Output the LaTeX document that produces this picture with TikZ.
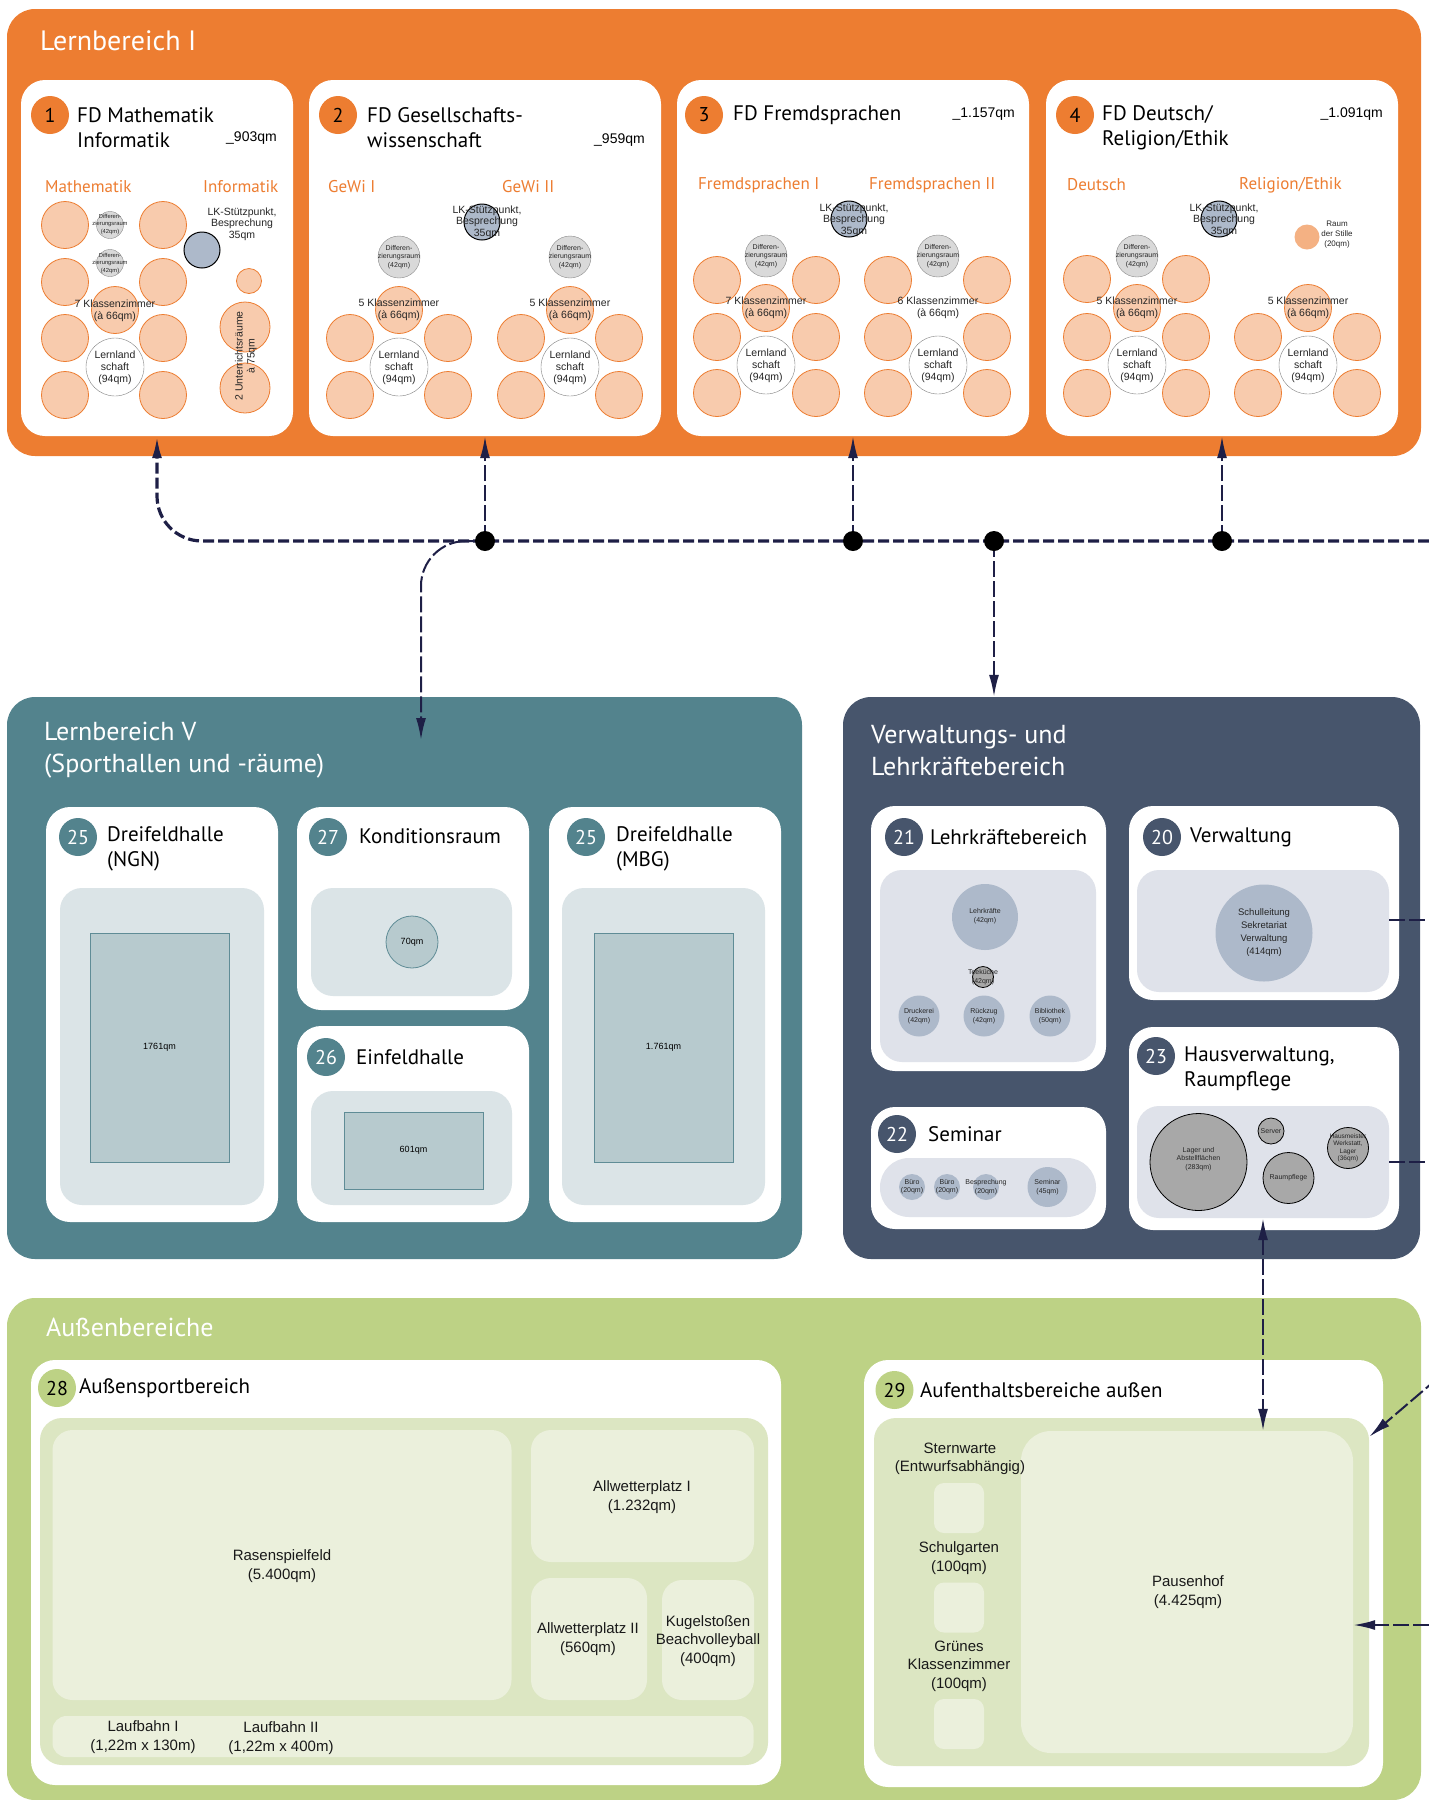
\documentclass[tikz,border=0pt]{standalone}
\usepackage{fontspec}
\setmainfont{Liberation Sans}
\newfontfamily\headfont{PT Sans}
\usetikzlibrary{arrows.meta, positioning, calc}

\definecolor{lbo}{RGB}{237,125,49}
\definecolor{kzfill}{RGB}{248,203,173}
\definecolor{stille}{RGB}{244,177,131}
\definecolor{diffill}{RGB}{217,217,217}
\definecolor{lkfill}{RGB}{173,185,202}
\definecolor{lbteal}{RGB}{83,131,141}
\definecolor{tealin}{RGB}{219,228,231}
\definecolor{tealrect}{RGB}{183,202,206}
\definecolor{tealline}{RGB}{95,140,150}
\definecolor{vwdark}{RGB}{71,85,108}
\definecolor{vwin}{RGB}{223,226,234}
\definecolor{vwcirc}{RGB}{173,185,202}
\definecolor{hvgrey}{RGB}{168,168,168}
\definecolor{agreen}{RGB}{189,210,133}
\definecolor{agin}{RGB}{220,230,194}
\definecolor{agfield}{RGB}{235,240,220}
\definecolor{wire}{RGB}{30,31,70}

\tikzset{
  wh/.style 2 args={minimum width=#1pt, minimum height=#2pt},
  area/.style={rounded corners=28pt, inner sep=0pt},
  card/.style={fill=white, rounded corners=24pt, inner sep=0pt},
  inbox/.style={rounded corners=22pt, inner sep=0pt},
  bigtitle/.style={text=white, anchor=west, align=left, inner sep=0pt,
    font=\headfont\fontsize{26}{32}\selectfont},
  cardtitle/.style={anchor=west, align=left, inner sep=0pt,
    font=\headfont\fontsize{21}{25}\selectfont},
  num/.style={circle, minimum size=38pt, inner sep=0pt,
    font=\headfont\fontsize{20}{24}\selectfont},
  sub/.style={text=lbo, anchor=west, inner sep=0pt,
    font=\headfont\fontsize{17}{20}\selectfont},
  qm/.style={anchor=east, inner sep=0pt, font=\fontsize{14}{16}\selectfont},
  kz/.style={circle, draw=lbo, fill=kzfill, minimum size=47pt, inner sep=0pt, line width=0.8pt},
  diff/.style={circle, draw=black!45, fill=diffill, minimum size=42pt, inner sep=0pt},
  lk/.style={circle, draw=black, fill=lkfill, minimum size=36pt, inner sep=0pt, line width=1pt},
  ll/.style={circle, draw=black!50, fill=white, minimum size=58pt, inner sep=0pt},
  lbl/.style={align=center, inner sep=0pt, text=black!85, font=\fontsize{10.5}{12}\selectfont},
  tinylbl/.style={align=center, inner sep=0pt, text=black!85, font=\fontsize{7}{8.5}\selectfont},
  glbl/.style={align=center, inner sep=0pt, text=black!90, font=\fontsize{15}{18.5}\selectfont},
  hall/.style={fill=tealrect, draw=tealline, line width=0.8pt, inner sep=0pt},
  vwc/.style={circle, fill=vwcirc, inner sep=0pt},
  hvc/.style={circle, fill=hvgrey, draw=black, line width=0.8pt, inner sep=0pt},
  field/.style={fill=agfield, rounded corners=20pt, inner sep=0pt},
  >={Latex[length=22pt,width=10pt]},
  trunk/.style={draw=wire, line width=3.2pt, dash pattern=on 11pt off 4pt},
  branch/.style={draw=wire, line width=2pt, dash pattern=on 16pt off 4pt},
}

\begin{document}
\begin{tikzpicture}[x=1pt, y=-1pt]
\useasboundingbox (0,0) rectangle (1429,1800);

% Lernbereich I
\node[area, fill=lbo, wh={1414}{447}] (lb1) at (714,232.5) {};
\node[bigtitle, font=\headfont\fontsize{28}{34}\selectfont] (lb1t) at (40,41) {Lernbereich I};
\node[card, wh={272}{356}] (c1) at (157,258) {};
\node[card, wh={352}{356}] (c2) at (485,258) {};
\node[card, wh={352}{356}] (c3) at (853,258) {};
\node[card, wh={352}{356}] (c4) at (1222,258) {};

\node[num, fill=lbo] (n1) at (50,115) {1};
\node[num, fill=lbo] (n2) at (338,115) {2};
\node[num, fill=lbo] (n3) at (704,115) {3};
\node[num, fill=lbo] (n4) at (1075,115) {4};
\node[cardtitle] (t1) at (77,127.5) {FD Mathematik\\Informatik};
\node[cardtitle] (t2) at (367,127.5) {FD Gesellschafts-\\wissenschaft};
\node[cardtitle] (t3) at (733,115) {FD Fremdsprachen};
\node[cardtitle] (t4) at (1102,127.5) {FD Deutsch/\\Religion/Ethik};
\node[qm] (q1) at (277,138) {\_903qm};
\node[qm] (q2) at (645,140) {\_959qm};
\node[qm] (q3) at (1015,114) {\_1.157qm};
\node[qm] (q4) at (1383,114) {\_1.091qm};

\node[sub] (s1a) at (45,187) {Mathematik};
\node[sub] (s1b) at (203,187) {Informatik};
\node[sub] (s2a) at (328,187) {GeWi I};
\node[sub] (s2b) at (502,187) {GeWi II};
\node[sub] (s3a) at (698,185) {Fremdsprachen I};
\node[sub] (s3b) at (869,185) {Fremdsprachen II};
\node[sub] (s4a) at (1067,185) {Deutsch};
\node[sub] (s4b) at (1239,185) {Religion/Ethik};

% FD 1
\foreach \x/\y [count=\i] in {65/225,65/282,65/338,65/395,163/225,163/282,163/338,163/395,115/310}
  \node[kz] (m1-\i) at (\x,\y) {};
\node[diff, minimum size=27pt] (d1a) at (110,225) {};
\node[diff, minimum size=27pt] (d1b) at (110,263) {};
\node[tinylbl, font=\fontsize{5.8}{7.5}\selectfont] (d1at) at (110,224) {Differen-\\zierungsraum\\(42qm)};
\node[tinylbl, font=\fontsize{5.8}{7.5}\selectfont] (d1bt) at (110,263) {Differen-\\zierungsraum\\(42qm)};
\node[ll] (l1) at (115,367) {};
\node[lbl] (l1t) at (115,368) {Lernland\\schaft\\(94qm)};
\node[lbl] (k1t) at (115,311) {7 Klassenzimmer\\(à 66qm)};
\node[lk] (lk1) at (202,250) {};
\node[lbl, font=\fontsize{10.5}{11.5}\selectfont] (lk1t) at (242,224) {LK-Stützpunkt,\\Besprechung\\35qm};
\node[kz, minimum size=25pt] (i1) at (249,281) {};
\node[kz, minimum size=50pt] (i2) at (245,327) {};
\node[kz, minimum size=50pt] (i3) at (245,388) {};
\node[lbl, rotate=90] (i2t) at (246,356) {2 Unterrichtsräume\\à 75qm};

% FD 2
\foreach \x/\y [count=\i] in {350/338,350/395,448/338,448/395,399/310,521/338,521/395,619/338,619/395,570/310}
  \node[kz] (m2-\i) at (\x,\y) {};
\foreach \x [count=\i] in {399,570} {
  \node[diff] (d2-\i) at (\x,257) {};
  \node[tinylbl] (d2t-\i) at (\x,257) {Differen-\\zierungsraum\\(42qm)};
  \node[ll] (l2-\i) at (\x,367) {};
  \node[lbl] (l2t-\i) at (\x,368) {Lernland\\schaft\\(94qm)};
  \node[lbl] (k2t-\i) at (\x,310) {5 Klassenzimmer\\(à 66qm)};
}
\node[lk] (lk2) at (482,222) {};
\node[lbl, font=\fontsize{10.5}{11.5}\selectfont] (lk2t) at (487,222) {LK-Stützpunkt,\\Besprechung\\35qm};

% FD 3
\foreach \x/\y [count=\i] in {717/280,717/337,717/393,816/280,816/337,816/393,766/308,888/280,888/337,888/393,987/280,987/337,987/393}
  \node[kz] (m3-\i) at (\x,\y) {};
\foreach \x/\n [count=\i] in {766/7,938/6} {
  \node[diff] (d3-\i) at (\x,256) {};
  \node[tinylbl] (d3t-\i) at (\x,256) {Differen-\\zierungsraum\\(42qm)};
  \node[ll] (l3-\i) at (\x,365) {};
  \node[lbl] (l3t-\i) at (\x,366) {Lernland\\schaft\\(94qm)};
  \node[lbl] (k3t-\i) at (\x,308) {\n\ Klassenzimmer\\(à 66qm)};
}
\node[lk] (lk3) at (849,219) {};
\node[lbl, font=\fontsize{10.5}{11.5}\selectfont] (lk3t) at (854,220) {LK-Stützpunkt,\\Besprechung\\35qm};

% FD 4
\foreach \x/\y [count=\i] in {1087/279,1087/337,1087/393,1186/279,1186/337,1186/393,1137/308,1258/337,1258/393,1357/337,1357/393,1308/308}
  \node[kz] (m4-\i) at (\x,\y) {};
\node[diff] (d4) at (1137,256) {};
\node[tinylbl] (d4t) at (1137,256) {Differen-\\zierungsraum\\(42qm)};
\foreach \x [count=\i] in {1137,1308} {
  \node[ll] (l4-\i) at (\x,365) {};
  \node[lbl] (l4t-\i) at (\x,366) {Lernland\\schaft\\(94qm)};
  \node[lbl] (k4t-\i) at (\x,308) {5 Klassenzimmer\\(à 66qm)};
}
\node[circle, fill=stille, minimum size=25pt, inner sep=0pt] (rs) at (1307,237) {};
\node[tinylbl, font=\fontsize{8}{10}\selectfont] (rst) at (1337,235) {Raum\\der Stille\\(20qm)};
\node[lk] (lk4) at (1219,219) {};
\node[lbl, font=\fontsize{10.5}{11.5}\selectfont] (lk4t) at (1224,220) {LK-Stützpunkt,\\Besprechung\\35qm};

% Lernbereich V
\node[area, fill=lbteal, wh={795}{562}] (lb5) at (404.5,978) {};
\node[bigtitle] (lb5t) at (44,750) {Lernbereich V\\(Sporthallen und -räume)};
\node[card, wh={232}{415}] (k25a) at (162,1014.5) {};
\node[card, wh={232}{203}] (k27) at (413,908.5) {};
\node[card, wh={232}{196}] (k26) at (413,1124) {};
\node[card, wh={232}{415}] (k25b) at (665,1014.5) {};
\node[inbox, fill=tealin, wh={204}{317}] (k25ain) at (162,1046.5) {};
\node[inbox, fill=tealin, wh={201}{108}] (k27in) at (411.5,942) {};
\node[inbox, fill=tealin, wh={201}{114}] (k26in) at (411.5,1148) {};
\node[inbox, fill=tealin, wh={203}{317}] (k25bin) at (663.5,1046.5) {};
\node[hall, wh={139}{229}, font=\fontsize{9}{11}\selectfont] (h25a) at (159.5,1047.5) {1761qm};
\node[hall, circle, minimum size=52pt, font=\fontsize{9}{11}\selectfont] (h27) at (412,942) {70qm};
\node[hall, wh={139}{77}, font=\fontsize{9}{11}\selectfont] (h26) at (413.5,1150.5) {601qm};
\node[hall, wh={139}{229}, font=\fontsize{9}{11}\selectfont] (h25b) at (663.5,1047.5) {1.761qm};
\node[num, fill=lbteal, text=white] (n25a) at (78,837) {25};
\node[num, fill=lbteal, text=white] (n27) at (328,837) {27};
\node[num, fill=lbteal, text=white] (n26) at (326,1057) {26};
\node[num, fill=lbteal, text=white] (n25b) at (586,837) {25};
\node[cardtitle] (t25a) at (107,849) {Dreifeldhalle\\(NGN)};
\node[cardtitle] (t27) at (359,836) {Konditionsraum};
\node[cardtitle] (t26) at (356,1057) {Einfeldhalle};
\node[cardtitle] (t25b) at (616,849) {Dreifeldhalle\\(MBG)};

% Verwaltungs- und Lehrkraeftebereich
\node[area, fill=vwdark, wh={577}{562}] (vw) at (1131.5,978) {};
\node[bigtitle] (vwt) at (871,751) {Verwaltungs- und\\Lehrkräftebereich};
\node[card, wh={235}{265}] (k21) at (988.5,938.5) {};
\node[card, wh={235}{122}] (k22) at (988.5,1168) {};
\node[card, wh={270}{194}] (k20) at (1264,903) {};
\node[card, wh={270}{203}] (k23) at (1264,1128.5) {};
\node[inbox, fill=vwin, wh={216}{192}] (k21in) at (988,966) {};
\node[inbox, fill=vwin, rounded corners=29pt, wh={216}{59}] (k22in) at (988,1187.5) {};
\node[inbox, fill=vwin, wh={252}{122}] (k20in) at (1263,931) {};
\node[inbox, fill=vwin, wh={252}{112}] (k23in) at (1263,1162) {};
\node[num, fill=vwdark, text=white] (n21) at (904,837) {21};
\node[num, fill=vwdark, text=white] (n22) at (897,1134) {22};
\node[num, fill=vwdark, text=white] (n20) at (1162,837) {20};
\node[num, fill=vwdark, text=white] (n23) at (1156,1056) {23};
\node[cardtitle] (t21) at (930,837) {Lehrkräftebereich};
\node[cardtitle] (t22) at (928,1134) {Seminar};
\node[cardtitle] (t20) at (1190,837) {Verwaltung};
\node[cardtitle] (t23) at (1184,1068.5) {Hausverwaltung,\\Raumpflege};

\node[vwc, minimum size=66pt] (lkr) at (985,917) {};
\node[tinylbl] (lkrt) at (985,916) {Lehrkräfte\\(42qm)};
\node[hvc, minimum size=21pt] (tee) at (983,977) {};
\node[tinylbl] (teet) at (983,977) {Teeküche\\(42qm)};
\foreach \x/\t [count=\i] in {919/Druckerei\\(42qm),984/Rückzug\\(42qm),1050/Bibliothek\\(50qm)} {
  \node[vwc, minimum size=41pt] (lr-\i) at (\x,1016) {};
  \node[tinylbl] (lrt-\i) at (\x,1016) {\t};
}
\foreach \x/\t [count=\i] in {912/Büro\\(20qm),947/Büro\\(20qm),986/Besprechung\\(20qm)} {
  \node[vwc, minimum size=26pt] (se-\i) at (\x,1187) {};
  \node[tinylbl] (set-\i) at (\x,1187) {\t};
}
\node[vwc, minimum size=40pt] (sem) at (1047.5,1187) {};
\node[tinylbl] (semt) at (1047.5,1187) {Seminar\\(45qm)};
\node[vwc, minimum size=97pt] (sl) at (1264,933) {};
\node[lbl, font=\fontsize{9.5}{13}\selectfont] (slt) at (1264,933) {Schulleitung\\Sekretariat\\Verwaltung\\(414qm)};
\node[hvc, minimum size=97pt] (lag) at (1198.5,1162) {};
\node[tinylbl] (lagt) at (1198.5,1159) {Lager und\\Abstellflächen\\(283qm)};
\node[hvc, minimum size=26pt] (srv) at (1271,1131) {};
\node[tinylbl] (srvt) at (1271,1131) {Server};
\node[hvc, minimum size=51pt] (rpf) at (1288.5,1178) {};
\node[tinylbl] (rpft) at (1288.5,1178) {Raumpflege};
\node[hvc, minimum size=41pt] (hm) at (1348,1148) {};
\node[tinylbl, font=\fontsize{6.5}{7.5}\selectfont] (hmt) at (1348,1148) {Hausmeister\\Werkstatt,\\Lager\\(36qm)};

% Aussenbereiche
\node[area, fill=agreen, wh={1414}{502}] (ab) at (714,1549) {};
\node[bigtitle] (abt) at (46,1327) {Außenbereiche};
\node[card, wh={750}{425}] (k28) at (406,1572.5) {};
\node[card, wh={519}{427}] (k29) at (1123.5,1573.5) {};
\node[num, fill=agreen] (n28) at (57,1388) {28};
\node[num, fill=agreen] (n29) at (894.5,1390) {29};
\node[cardtitle] (t28) at (79,1388) {Außensportbereich};
\node[cardtitle] (t29) at (920,1390) {Aufenthaltsbereiche außen};
\node[inbox, fill=agin, wh={728}{347}] (k28in) at (404,1591.5) {};
\node[field, wh={459}{270}] (ras) at (282,1565) {};
\node[field, wh={223}{132}] (aw1) at (642.5,1496) {};
\node[field, wh={116}{122}] (aw2) at (589,1639) {};
\node[field, wh={92}{120}] (kug) at (708,1640) {};
\node[field, rounded corners=14pt, wh={701}{41}] (lauf) at (403,1736.5) {};
\node[glbl] (rast) at (282,1566) {Rasenspielfeld\\(5.400qm)};
\node[glbl] (aw1t) at (642,1497) {Allwetterplatz I\\(1.232qm)};
\node[glbl] (aw2t) at (588,1639) {Allwetterplatz II\\(560qm)};
\node[glbl] (kugt) at (708,1641) {Kugelstoßen\\Beachvolleyball\\(400qm)};
\node[glbl] (lf1t) at (143,1737) {Laufbahn I\\(1,22m x 130m)};
\node[glbl] (lf2t) at (281,1738) {Laufbahn II\\(1,22m x 400m)};
\node[inbox, fill=agin, wh={495}{348}] (k29in) at (1121.5,1592) {};
\node[field, wh={332}{322}, rounded corners=30pt] (paus) at (1187,1592) {};
\foreach \y [count=\i] in {1508,1607.5,1724}
  \node[field, rounded corners=10pt, wh={50}{50}] (sq-\i) at (959,\y) {};
\node[glbl] (pst) at (1188,1592) {Pausenhof\\(4.425qm)};
\node[glbl] (stw) at (960,1459) {Sternwarte\\(Entwurfsabhängig)};
\node[glbl] (sgt) at (959,1558) {Schulgarten\\(100qm)};
\node[glbl] (gkz) at (959,1666) {Grünes\\Klassenzimmer\\(100qm)};

% Verbindungen
\coordinate (busend) at (1429,541);
\coordinate (j2) at (485,541);
\coordinate (j3) at (853,541);
\coordinate (j4) at (994,541);
\coordinate (j5) at (1222,541);
\coordinate (lb5in) at (421,740);
\coordinate (out20) at (1429,920);
\coordinate (out23) at (1429,1162);
\coordinate (inD) at (1438,1378);
\coordinate (inH) at (1429,1625);

\draw[trunk, ->, rounded corners=45pt] (busend) -| (c1.south);
\draw[branch, ->] (j2) -- (c2.south);
\draw[branch, ->] (j3) -- (c3.south);
\draw[branch, ->] (j5) -- (c4.south);
\draw[branch, ->, rounded corners=45pt] (j2) -| (lb5in);
\draw[branch, ->] (j4) -- (j4 |- vw.north);
\draw[branch] (k20in.east |- out20) -- (out20);
\draw[branch] (k23in.east |- out23) -- (out23);
\draw[branch, <->] (k23in.south) -- (k23in.south |- paus.north);
\draw[branch, ->] (inD) -- ([yshift=-19pt]k29in.north east);
\draw[branch, ->] (inH) -- (paus.east |- inH);
\foreach \j in {j2,j3,j4,j5}
  \fill[black] (\j) circle (10pt);
\end{tikzpicture}
\end{document}
